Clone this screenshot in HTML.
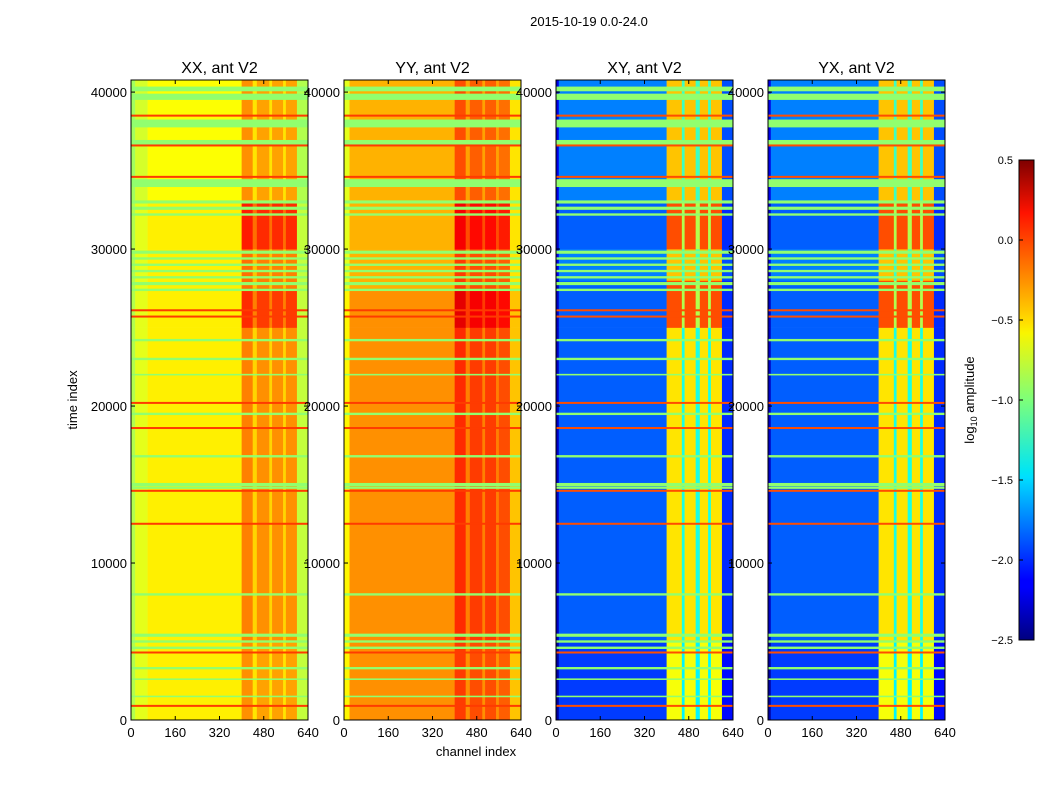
<!DOCTYPE html>
<html><head><meta charset="utf-8"><style>
body{margin:0;background:#fff;font-family:"Liberation Sans",sans-serif}
svg text{font-family:"Liberation Sans",sans-serif}
</style></head><body>
<svg id="fig" width="1050" height="800" xmlns="http://www.w3.org/2000/svg">
<rect width="1050" height="800" fill="#fff"/>
<text x="589" y="26" font-size="13" text-anchor="middle">2015-10-19 0.0-24.0</text>
<text x="77" y="400" font-size="13" text-anchor="middle" transform="rotate(-90 77 400)">time index</text>
<text x="476" y="756" font-size="13" text-anchor="middle">channel index</text>
<g id="panels"></g>
<defs><linearGradient id="jet" x1="0" y1="1" x2="0" y2="0">
<stop offset="0" stop-color="#00007f"/><stop offset="0.11" stop-color="#0000ff"/><stop offset="0.125" stop-color="#0000ff"/><stop offset="0.34" stop-color="#00dfff"/><stop offset="0.35" stop-color="#00e5f5"/><stop offset="0.5" stop-color="#7dff7a"/><stop offset="0.64" stop-color="#f9f500"/><stop offset="0.66" stop-color="#ffe000"/><stop offset="0.89" stop-color="#ff1300"/><stop offset="1" stop-color="#7f0000"/>
</linearGradient></defs>
<rect x="1019" y="160" width="15" height="480" fill="url(#jet)" stroke="#000" stroke-width="1"/>
<g id="cbticks"></g>
<text x="974" y="400" font-size="13" text-anchor="middle" transform="rotate(-90 974 400)">log<tspan font-size="9" dy="3">10</tspan><tspan dy="-3"> amplitude</tspan></text>
</svg>
<script>
const panelTitles=["XX, ant V2","YY, ant V2","XY, ant V2","YX, ant V2"];
const panelLeft=[131,344,556,768];
const xTicks=[0,160,320,480,640];
const yTicks=[0,10000,20000,30000,40000];
const cbTicks=[0.5,0.0,-0.5,-1.0,-1.5,-2.0,-2.5];
const colSegsXX=[[0,15,-0.85],[15,60,-0.7],[60,400,-0.58],[400,440,-0.3],[440,455,-0.55],[455,500,-0.35],[500,510,-0.55],[510,550,-0.35],[550,560,-0.55],[560,600,-0.35],[600,640,-0.8]];
const colSegsYY=[[0,20,-0.6],[20,400,-0.3],[400,440,-0.05],[440,455,-0.3],[455,500,-0.1],[500,510,-0.3],[510,550,-0.1],[550,560,-0.3],[560,600,-0.15],[600,640,-0.45]];
const colSegsXY=[[0,10,-2.3],[10,400,-1.85],[400,455,-0.55],[455,465,-1.3],[465,505,-0.55],[505,520,-1.3],[520,550,-0.55],[550,560,-1.3],[560,600,-0.55],[600,640,-2.0]];
const rowSegsXX=[[0,5000,0,0],[5000,25000,0,0.05],[25000,27500,0,0.3],[27500,30000,0,0.1],[30000,33000,0,0.35],[33000,40960,-0.05,0.05]];
const rowSegsYY=[[0,5000,0,0],[5000,25000,0,0.05],[25000,27500,0,0.25],[27500,30000,-0.1,0.1],[30000,33000,-0.1,0.3],[33000,40960,-0.1,0.05]];
const rowSegsXY=[[0,5000,-0.1,0],[5000,25000,0,0],[25000,28000,0,0.45],[28000,30000,0.1,0],[30000,33000,0,0.45],[33000,40960,0.1,0]];
const greenStripes=[[40200,300],[39700,400],[38000,500],[36800,300],[34200,500],[33000,200],[32600,200],[32200,150],[29800,200],[29400,150],[29000,150],[28600,150],[28200,150],[27800,200],[27400,150],[24200,150],[23000,150],[22000,100],[19500,150],[16800,150],[15000,200],[14800,150],[8000,150],[5400,200],[5000,150],[4600,150],[3300,150],[2600,100],[1500,100]];
const redStripes=[900,4300,12500,14600,18600,20200,25700,26100,34600,36600,38500];
const greenValue=[-0.95,-0.95,-0.95,-0.95];
const redValue=[-0.05,-0.05,-0.1,-0.1];
const panelCols=[colSegsXX,colSegsYY,colSegsXY,colSegsXY];
const panelRows=[rowSegsXX,rowSegsYY,rowSegsXY,rowSegsXY];

const W=177,TOP=80,BOT=720,VMIN=-2.5,VMAX=0.5,TMAX=40770;
function jet(v){let t=(v-VMIN)/(VMAX-VMIN);t=Math.max(0,Math.min(1,t));
 const r=Math.max(0,Math.min(1,1.5-Math.abs(4*t-3))),g=Math.max(0,Math.min(1,1.5-Math.abs(4*t-2))),b=Math.max(0,Math.min(1,1.5-Math.abs(4*t-1)));
 return `rgb(${Math.round(r*255)},${Math.round(g*255)},${Math.round(b*255)})`;}
const NS="http://www.w3.org/2000/svg";
function mk(tag,attrs,parent){const e=document.createElementNS(NS,tag);for(const k in attrs)e.setAttribute(k,attrs[k]);parent.appendChild(e);return e;}
const root=document.getElementById('panels');
panelTitles.forEach((title,p)=>{
 const x0=panelLeft[p];
 const xs=c=>x0+c/640*W, ys=t=>Math.max(TOP,BOT-t/TMAX*(BOT-TOP));
 const g=mk('g',{},root);
 
 
 const isRfi=c=>c>=400&&c<600;
 panelRows[p].forEach(rs=>{panelCols[p].forEach(cs=>{
  const v=cs[2]+rs[2]+(isRfi(cs[0])?rs[3]:0);
  const r=mk('rect',{x:xs(cs[0]),y:ys(rs[1]),width:xs(cs[1])-xs(cs[0])+0.3,height:ys(rs[0])-ys(rs[1])+0.3,fill:jet(v)},g);
  
  
 });});
 greenStripes.forEach(s=>{
  const r=mk('rect',{x:x0,y:ys(s[0]+s[1]/2),width:W,height:Math.max(1.5,s[1]/64),fill:jet(greenValue[p])},g);
  
  
 });
 redStripes.forEach(t=>{
  const r=mk('rect',{x:x0,y:ys(t)-1,width:W,height:2,fill:jet(redValue[p])},g);
  
  
 });
 mk('rect',{x:x0,y:TOP,width:W,height:BOT-TOP,fill:'none',stroke:'#000','stroke-width':1},g);
 const tt=mk('text',{x:x0+W/2,y:TOP-7,'font-size':16,'text-anchor':'middle'},g);tt.textContent=title;
 
 
 xTicks.forEach(v=>{const x=xs(v);mk('line',{x1:x,x2:x,y1:BOT,y2:BOT-4,stroke:'#000'},g);mk('line',{x1:x,x2:x,y1:TOP,y2:TOP+4,stroke:'#000'},g);
  const t=mk('text',{x:x,y:BOT+17,'font-size':13,'text-anchor':'middle'},g);t.textContent=v;
  
  });
 yTicks.forEach(v=>{const y=ys(v);mk('line',{x1:x0,x2:x0+4,y1:y,y2:y,stroke:'#000'},g);mk('line',{x1:x0+W,x2:x0+W-4,y1:y,y2:y,stroke:'#000'},g);
  const t=mk('text',{x:x0-4,y:y+5,'font-size':13,'text-anchor':'end'},g);t.textContent=v;
  
  });
});
const cb=document.getElementById('cbticks');
cbTicks.forEach(v=>{const y=160+(0.5-v)/3*480;
 mk('line',{x1:1019,x2:1023,y1:y,y2:y,stroke:'#000'},cb);
 const t=mk('text',{x:1013,y:y+4,'font-size':11,'text-anchor':'end'},cb);t.textContent=v.toFixed(1).replace('-','−');
 
 });
</script>
</body></html>
